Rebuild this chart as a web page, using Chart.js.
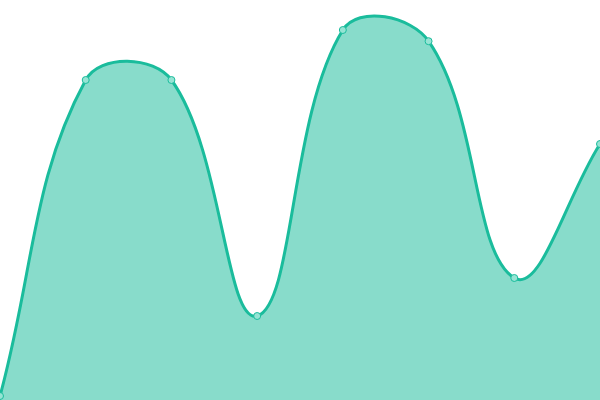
<!DOCTYPE html>
<html>
<head>
<meta charset="utf-8">
<script src="https://cdn.jsdelivr.net/npm/chart.js@4"></script>
<style>
    html, body { margin: 0; padding: 0; background: #fff; }
</style>
</head>
<body>
<canvas id="myAreaChart" width="600" height="400"></canvas>
<script>
// categories and values
const labels = ["Jan", "Feb", "Mar", "Apr", "May", "Jun", "Jul", "Aug"];
const values = [1, 80, 80, 21, 92.5, 89.7, 30.5, 64];

const ctx = document.getElementById("myAreaChart").getContext("2d");

new Chart(ctx, {
    type: "line",
    data: {
        labels: labels,
        datasets: [{
            label: "Series",
            data: values,
            fill: true,
            tension: 0.4,
            borderColor: "#1abc9c",
            backgroundColor: "rgba(26, 188, 156, 0.52)",
            borderWidth: 3,
            pointRadius: 3.5,
            pointBorderWidth: 1,
            pointBackgroundColor: "rgba(150, 228, 212, 1)",
            pointBorderColor: "#1abc9c"
        }]
    },
    options: {
        responsive: false,
        animation: false,
        layout: { padding: 0, autoPadding: false },
        plugins: {
            legend: { display: false },
            tooltip: { enabled: false }
        },
        scales: {
            x: { display: false },
            y: { display: false, min: 0, max: 100 }
        }
    }
});
</script>
</body>
</html>
